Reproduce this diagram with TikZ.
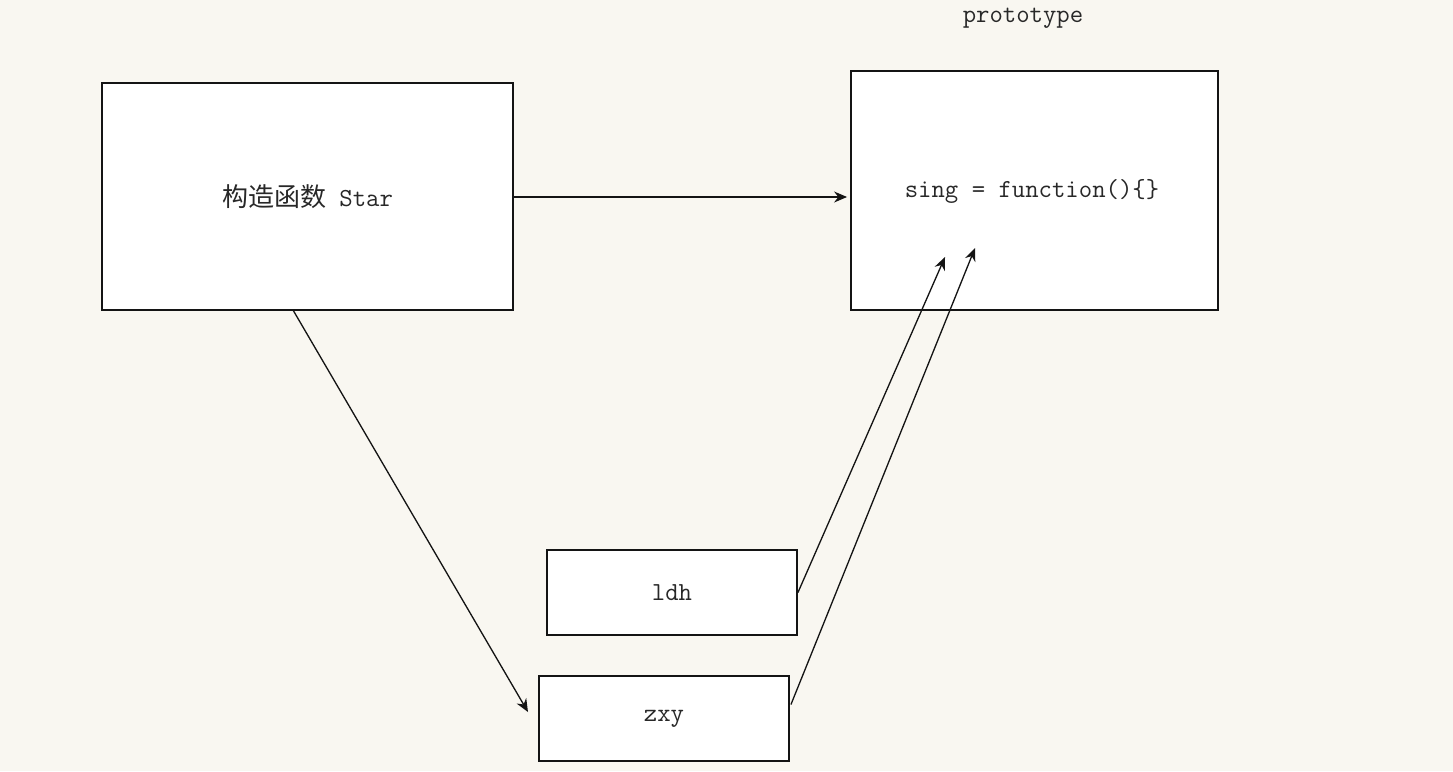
\documentclass[tikz,border=0pt]{standalone}
\usepackage{fontspec}
\usepackage{tikz}
\usepackage{xcolor}
\usetikzlibrary{arrows.meta, positioning, calc}
\newfontfamily\cjk{Noto Sans CJK SC}
\definecolor{paper}{RGB}{249, 247, 241}
\definecolor{ink}{RGB}{20, 20, 20}
\definecolor{txt}{RGB}{40, 40, 40}
\tikzset{
    box/.style={rectangle, draw=ink, line width=1.1pt, fill=white, inner sep=0pt, text=txt, font=\fontsize{14.8}{18}\selectfont\ttfamily},
    arr/.style={-{Stealth[length=2.6mm, width=2.2mm]}, line width=0.75pt, ink}
}
\begin{document}
\begin{tikzpicture}[x=0.02cm, y=-0.02cm]
        \fill[paper] (0,0) rectangle (1453,771);
        \node[box, minimum width=8.22cm, minimum height=4.54cm] (ctor) at (307.5,196.5) {{\cjk 构造函数} Star};
        \node[box, minimum width=7.34cm, minimum height=4.78cm] (proto) at (1034.5,190.5) {};
        \node[text=txt, font=\fontsize{14.8}{18}\selectfont\ttfamily] (sing) at (1032,191) {sing = function()\{\}};
        \node[text=txt, font=\fontsize{14.8}{18}\selectfont\ttfamily] (plabel) at (1023,18) {prototype};
        \node[box, minimum width=5cm, minimum height=1.7cm] (ldh) at (672,592.5) {ldh};
        \node[box, minimum width=5cm, minimum height=1.7cm] (zxy) at (664,718.5) {zxy};
        \coordinate (in1) at (945,257);
        \coordinate (in2) at (975,248);
        \coordinate (out1) at (293,310);
        \coordinate (hit1) at (528,712);
        \draw[arr] (ctor.east |- 0,197) -- ($(proto.west |- 0,197)+(-3,0)$);
        \draw[arr] (out1) -- (hit1);
        \draw[arr] (ldh.east) -- (in1);
        \draw[arr] ($(zxy.east)+(1,-14)$) -- (in2);
    \end{tikzpicture}
\end{document}
